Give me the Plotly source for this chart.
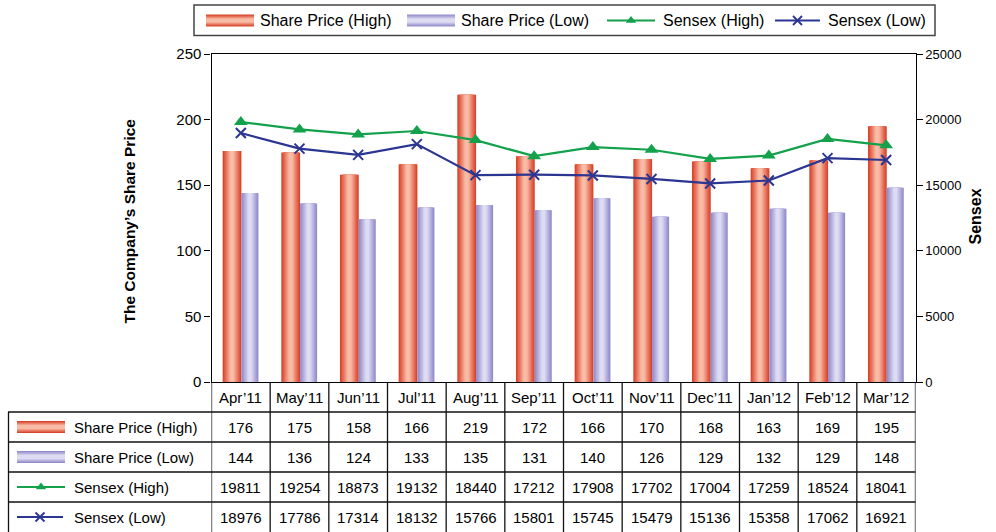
import plotly.graph_objects as go

months = ["Apr’11", "May’11", "Jun’11", "Jul’11", "Aug’11", "Sep’11",
          "Oct’11", "Nov’11", "Dec’11", "Jan’12", "Feb’12", "Mar’12"]
share_high = [176, 175, 158, 166, 219, 172, 166, 170, 168, 163, 169, 195]
share_low = [144, 136, 124, 133, 135, 131, 140, 126, 129, 132, 129, 148]
sensex_high = [19811, 19254, 18873, 19132, 18440, 17212, 17908, 17702, 17004, 17259, 18524, 18041]
sensex_low = [18976, 17786, 17314, 18132, 15766, 15801, 15745, 15479, 15136, 15358, 17062, 16921]
series_names = ["Share Price (High)", "Share Price (Low)", "Sensex (High)", "Sensex (Low)"]

W, H = 996, 532
FONT = "Liberation Sans, Arial, sans-serif"
RED_EDGE, RED_MID = (218, 68, 44), (248, 188, 166)
BLUE_EDGE, BLUE_MID = (146, 140, 204), (222, 220, 242)
GREEN = "#13a14b"
NAVY = "#2b3592"


def px(x):
    return x / W


def py(y):
    return 1 - y / H


def mix(a, b, t):
    return "rgb(%d,%d,%d)" % tuple(round(a[i] + (b[i] - a[i]) * t) for i in range(3))


fig = go.Figure()

# cylinder-like bars: layered overlay bars of decreasing width
NL = 7
for vals, center, width, edge, mid in [
    (share_high, -0.15, 0.32, RED_EDGE, RED_MID),
    (share_low, 0.155, 0.29, BLUE_EDGE, BLUE_MID),
]:
    for i in range(NL):
        f = 1 - i / NL * 0.92
        t = i / (NL - 1)
        w = width * f
        fig.add_trace(go.Bar(
            x=months, y=vals, width=w, offset=center - w / 2,
            marker=dict(color=mix(edge, mid, t), line=dict(width=0)),
            xaxis="x", yaxis="y", showlegend=False, hoverinfo="skip"))

fig.add_trace(go.Scatter(
    x=months, y=sensex_high, mode="lines+markers", yaxis="y2",
    line=dict(color=GREEN, width=2.2),
    marker=dict(symbol="triangle-up", size=12, color=GREEN),
    showlegend=False))
fig.add_trace(go.Scatter(
    x=months, y=sensex_low, mode="lines+markers", yaxis="y2",
    line=dict(color=NAVY, width=2.2),
    marker=dict(symbol="x-thin", size=10, line=dict(color=NAVY, width=2)),
    showlegend=False))

shapes = []
annotations = []


def rect_glyph(x0, yc, w, h, edge, mid):
    n = 5
    for i in range(n):
        f = 1 - i / n * 0.85
        hh = h * f
        shapes.append(dict(type="rect", xref="paper", yref="paper",
                           x0=px(x0), x1=px(x0 + w), y0=py(yc - hh / 2), y1=py(yc + hh / 2),
                           fillcolor=mix(edge, mid, i / (n - 1)), line=dict(width=0)))


glyph_marks = {"tri": ([], []), "x": ([], [])}


def line_glyph(x0, x1, yc, color, kind):
    shapes.append(dict(type="line", xref="paper", yref="paper",
                       x0=px(x0), x1=px(x1), y0=py(yc), y1=py(yc),
                       line=dict(color=color, width=2)))
    glyph_marks[kind][0].append((x0 + x1) / 2)
    glyph_marks[kind][1].append(yc)


# ---------- top legend ----------
shapes.append(dict(type="rect", xref="paper", yref="paper",
                   x0=px(194), x1=px(935), y0=py(5), y1=py(35.5),
                   line=dict(color="#444", width=1.5), fillcolor="rgba(0,0,0,0)"))
LY = 20.5
rect_glyph(206, LY, 48, 12, RED_EDGE, RED_MID)
rect_glyph(407, LY, 48, 12, BLUE_EDGE, BLUE_MID)
line_glyph(607, 655, LY, GREEN, "tri")
line_glyph(775, 820, LY, NAVY, "x")
for xt, name in zip([258, 459, 661, 826], series_names):
    annotations.append(dict(xref="paper", yref="paper", x=px(xt), y=py(LY),
                            xanchor="left", yanchor="middle", showarrow=False,
                            text=name, font=dict(family=FONT, size=16, color="black")))

# ---------- data table ----------
TOP = 382
ROW = 30
row_c = [TOP + ROW * (k + 0.5) for k in range(5)]
LINEC = "#111"
for k in range(1, 5):
    shapes.append(dict(type="line", xref="paper", yref="paper",
                       x0=px(8), x1=px(915.5), y0=py(TOP + ROW * k), y1=py(TOP + ROW * k),
                       line=dict(color=LINEC, width=1.3)))
for k in range(13):
    shapes.append(dict(type="line", xref="x", yref="paper",
                       x0=k - 0.5, x1=k - 0.5, y0=py(TOP), y1=0,
                       line=dict(color=LINEC, width=1.3)))
shapes.append(dict(type="line", xref="paper", yref="paper",
                   x0=px(8.5), x1=px(8.5), y0=py(TOP + ROW), y1=0,
                   line=dict(color=LINEC, width=1.3)))

for m in months:
    annotations.append(dict(xref="x", yref="paper", x=m, y=py(row_c[0]),
                            showarrow=False, text=m, xanchor="center", yanchor="middle",
                            font=dict(family=FONT, size=15, color="black")))
for r, vals in enumerate([share_high, share_low, sensex_high, sensex_low]):
    for m, v in zip(months, vals):
        annotations.append(dict(xref="x", yref="paper", x=m, y=py(row_c[r + 1]),
                                showarrow=False, text=str(v), xanchor="center", yanchor="middle",
                                font=dict(family=FONT, size=15, color="black")))
    annotations.append(dict(xref="paper", yref="paper", x=px(72), y=py(row_c[r + 1]),
                            showarrow=False, text=series_names[r], xanchor="left", yanchor="middle",
                            font=dict(family=FONT, size=15, color="black")))
rect_glyph(17, row_c[1], 48, 12, RED_EDGE, RED_MID)
rect_glyph(17, row_c[2], 48, 12, BLUE_EDGE, BLUE_MID)
line_glyph(17, 65, row_c[3], GREEN, "tri")
line_glyph(17, 63, row_c[4], NAVY, "x")

fig.add_trace(go.Scatter(x=glyph_marks["tri"][0], y=glyph_marks["tri"][1], xaxis="x4", yaxis="y4",
                         mode="markers", marker=dict(symbol="triangle-up", size=9, color=GREEN),
                         showlegend=False, hoverinfo="skip", cliponaxis=False))
fig.add_trace(go.Scatter(x=glyph_marks["x"][0], y=glyph_marks["x"][1], xaxis="x4", yaxis="y4",
                         mode="markers", marker=dict(symbol="x-thin", size=9, line=dict(color=NAVY, width=1.8)),
                         showlegend=False, hoverinfo="skip", cliponaxis=False))

annotations.append(dict(xref="paper", yref="paper", x=px(118), y=py(221), showarrow=False,
                        text="<b>The Company’s Share Price</b>", textangle=-90,
                        font=dict(family=FONT, size=15.5, color="black")))
annotations.append(dict(xref="paper", yref="paper", x=px(985), y=py(217), showarrow=False,
                        text="<b>Sensex</b>", textangle=-90,
                        font=dict(family=FONT, size=16, color="black")))

XD = [px(211.5), px(915.5)]
YD = [py(382), py(54)]
axis_common = dict(showgrid=False, zeroline=False, linecolor="black", linewidth=1.3,
                   tickcolor="black", tickwidth=1.3, automargin=False)
fig.update_layout(
    template="none",
    width=W, height=H, margin=dict(l=0, r=0, t=0, b=0, pad=0), autosize=False,
    paper_bgcolor="white", plot_bgcolor="rgba(0,0,0,0)",
    barmode="overlay", showlegend=False,
    font=dict(family=FONT, color="black"),
    xaxis=dict(domain=XD, anchor="y", type="category", range=[-0.5, 11.5],
               showline=True, mirror=True, showticklabels=False, ticks="",
               showgrid=False, zeroline=False, linecolor="black", linewidth=1.3, automargin=False),
    yaxis=dict(domain=YD, anchor="x", range=[0, 250], dtick=50, showline=True,
               ticks="outside", ticklen=6, tickfont=dict(size=15, family=FONT), **axis_common),
    yaxis2=dict(overlaying="y", side="right", anchor="x", range=[0, 25000], dtick=5000,
                tickformat="d", showline=True, ticks="outside", ticklen=6,
                tickfont=dict(size=13, family=FONT), **axis_common),
    yaxis5=dict(overlaying="y", side="left", anchor="x", range=[0, 250], dtick=50,
                showline=False, ticks="inside", ticklen=5, showticklabels=False, **axis_common),
    yaxis6=dict(overlaying="y", side="right", anchor="x", range=[0, 25000], dtick=5000,
                showline=False, ticks="inside", ticklen=5, showticklabels=False, **axis_common),
    xaxis4=dict(domain=[0, 1], anchor="y4", range=[0, W], visible=False, fixedrange=True, automargin=False),
    yaxis4=dict(domain=[0, 1], anchor="x4", range=[H, 0], visible=False, fixedrange=True, automargin=False),
    shapes=shapes, annotations=annotations,
)

fig.write_html("out.html", config={"displayModeBar": False},
               post_script="document.body.style.margin='0px';")
